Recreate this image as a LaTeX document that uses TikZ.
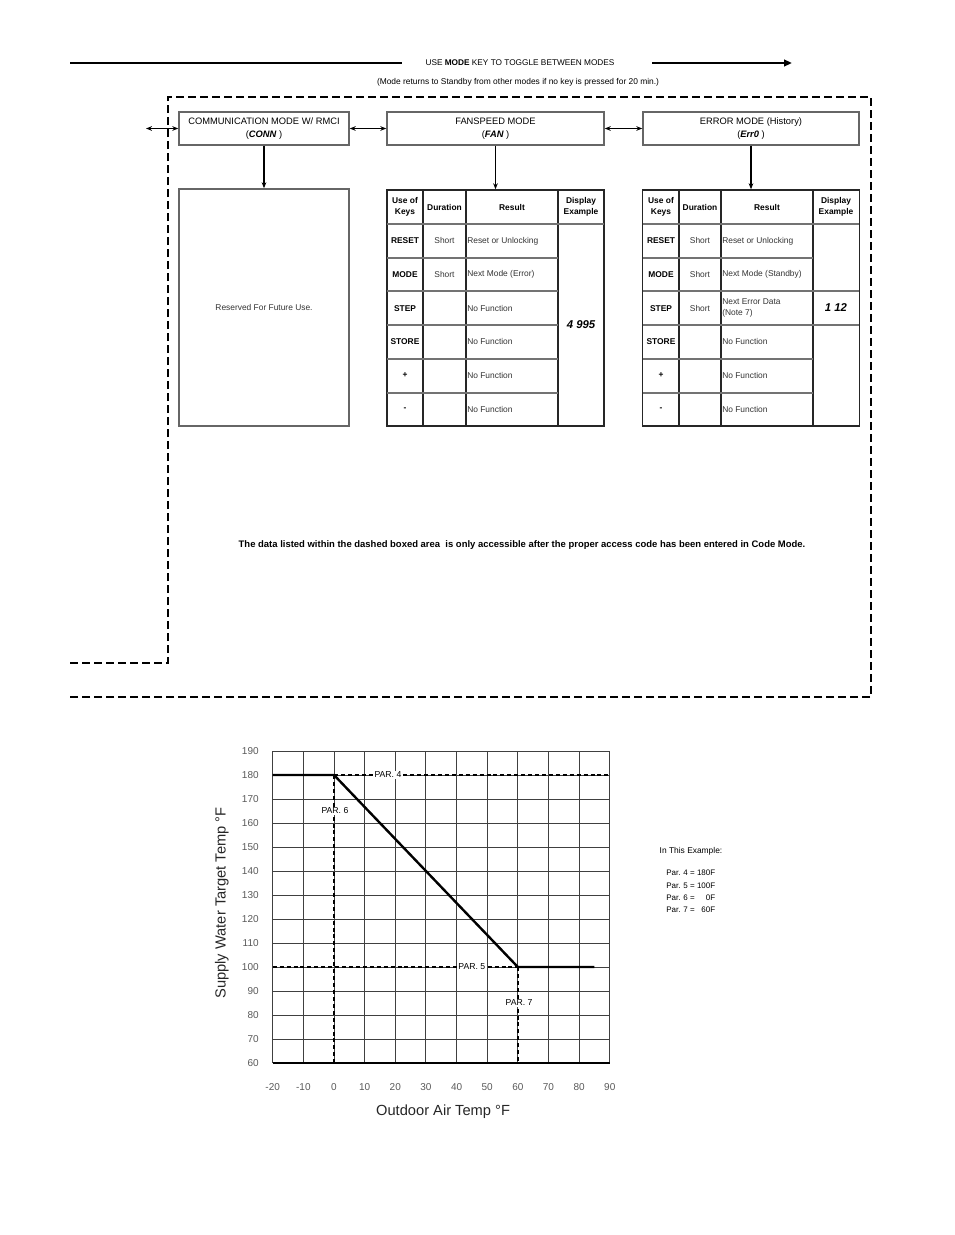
\documentclass[tikz,border=0pt]{standalone}
\usepackage{fontspec}
\setmainfont{Liberation Sans}
\usetikzlibrary{positioning,arrows.meta}

% seven segment look for the display texts
\newcommand{\segdig}[1]{{\bfseries\itshape #1}}

\tikzset{
  modebox/.style={draw=black!60, line width=1.1pt, minimum height=33*0.75pt, align=center,
    font=\fontsize{7}{10}\selectfont, inner sep=0pt},
  flow/.style={{Stealth[length=4.5pt,width=3.5pt]}-{Stealth[length=4.5pt,width=3.5pt]}, line width=1.1pt},
  flowdown/.style={-{Stealth[length=4.5pt,width=3.5pt]}, line width=1.1pt},
  tabframe/.style={draw=black!85, line width=1.1pt, minimum width=217*0.75pt,
    minimum height=236*0.75pt, inner sep=0pt},
  vline/.style={black!85, line width=1.1pt},
  hline/.style={black!55, line width=0.8pt},
  hdr/.style={font=\fontsize{6.3}{8.2}\selectfont\bfseries, align=center, inner sep=0pt},
  keylbl/.style={font=\fontsize{6.3}{8}\selectfont\bfseries, inner sep=0pt},
  cell/.style={font=\fontsize{6.3}{8}\selectfont, text=black!80, inner sep=0pt, align=left},
  digits/.style={font=\fontsize{8.5}{10}\selectfont, inner sep=0pt},
  dashbox/.style={line width=1.5pt, dash pattern=on 6pt off 3pt},
  gridln/.style={black!75, line width=0.75pt},
  parline/.style={line width=1pt, dash pattern=on 3pt off 2.2pt},
  parlbl/.style={font=\fontsize{6.5}{8}\selectfont, fill=white, inner sep=1pt},
  ticklbl/.style={font=\fontsize{7.5}{9}\selectfont, text=black!65, inner sep=0pt},
  axtitle/.style={font=\fontsize{11}{13}\selectfont, text=black!85},
}

\begin{document}
\begin{tikzpicture}[x=0.75pt, y=-0.75pt, >=Stealth]
  \useasboundingbox (0,0) rectangle (954,1235);

  % toggle line on top
  \coordinate (tgl1) at (70,63);
  \coordinate (tgl2) at (402,63);
  \coordinate (tgl3) at (652,63);
  \coordinate (tgl4) at (792,63);
  \node[font=\fontsize{6.2}{7}\selectfont] (toggle) at (520,63) {USE \textbf{MODE} KEY TO TOGGLE BETWEEN MODES};
  \node[font=\fontsize{6.3}{7}\selectfont] (stdby) at (518,82) {(Mode returns to Standby from other modes if no key is pressed for 20 min.)};
  \draw[line width=1.6pt] (tgl1) -- (tgl2);
  \draw[-{Triangle[length=6pt,width=5pt]}, line width=1.6pt] (tgl3) -- (tgl4);

  % dashed area
  \draw[dashbox] (70,663) -- (168,663) -- (168,97) -- (871,97) -- (871,697) -- (70,697);

  % mode boxes
  \node[modebox, minimum width=170*0.75pt] (conn) at (264,128.5) {COMMUNICATION MODE W/ RMCI\\(\segdig{CONN} )};
  \node[modebox, minimum width=217*0.75pt] (fan) at (495.5,128.5) {FANSPEED MODE\\(\segdig{FAN} )};
  \node[modebox, minimum width=216*0.75pt] (err) at (751,128.5) {ERROR MODE (History)\\(\segdig{Err0} )};
  \coordinate (prev) at (146,128.5);
  \draw[flow] (prev) -- (conn);
  \draw[flow] (conn) -- (fan);
  \draw[flow] (fan) -- (err);

  % reserved box
  \node[draw=black!60, line width=1.1pt, minimum width=170*0.75pt, minimum height=237*0.75pt,
    font=\fontsize{6.3}{8}\selectfont, text=black!80] (rsv) at (264,307.5) {Reserved For Future Use.};
  \draw[flowdown] (conn) -- (rsv);

  % fanspeed table
  \begin{scope}[shift={(387,190)}]
    \node[tabframe] (fantab) at (108.5,118) {};
    \foreach \cx in {36,79,171} \draw[vline] (\cx,0) -- (\cx,236);
    \draw[hline] (0,34) -- (217,34);
    \foreach \ry in {68,101,135,169,203} \draw[hline] (0,\ry) -- (171,\ry);
    \node[hdr] at (18,17) {Use of\\Keys};
    \node[hdr] at (57.5,17) {Duration};
    \node[hdr] at (125,17) {Result};
    \node[hdr] at (194,17) {Display\\Example};
    \foreach \k/\d/\r [count=\i, evaluate=\i as \ry using 34+(\i-0.5)*33.67] in
      {RESET/Short/Reset or Unlocking, MODE/Short/Next Mode (Error), STEP//No Function,
       STORE//No Function, +//No Function, -//No Function} {
      \node[keylbl] at (18,\ry) {\k};
      \node[cell] at (57.5,\ry) {\d};
      \node[cell, anchor=west] at (80,\ry) {\r};
    }
    \node[digits] at (194,135) {\segdig{4 995}};
  \end{scope}
  \draw[flowdown] (fan) -- (fantab);

  % error table
  \begin{scope}[shift={(643,190)}]
    \node[tabframe] (errtab) at (108,118) {};
    \foreach \cx in {36,78,170} \draw[vline] (\cx,0) -- (\cx,236);
    \foreach \ry in {34,101,135} \draw[hline] (0,\ry) -- (216,\ry);
    \foreach \ry in {68,169,203} \draw[hline] (0,\ry) -- (170,\ry);
    \node[hdr] at (18,17) {Use of\\Keys};
    \node[hdr] at (57,17) {Duration};
    \node[hdr] at (124,17) {Result};
    \node[hdr] at (193,17) {Display\\Example};
    \foreach \k/\d/\r [count=\i, evaluate=\i as \ry using 34+(\i-0.5)*33.67] in
      {RESET/Short/Reset or Unlocking, MODE/Short/Next Mode (Standby), STEP/Short/{Next Error Data\\(Note 7)},
       STORE//No Function, +//No Function, -//No Function} {
      \node[keylbl] at (18,\ry) {\k};
      \node[cell] at (57,\ry) {\d};
      \node[cell, anchor=west] at (79,\ry) {\r};
    }
    \node[digits] at (193,118) {\segdig{1 12}};
  \end{scope}
  \draw[flowdown] (err) -- (errtab);

  % access note
  \node[font=\fontsize{7.1}{9}\selectfont\bfseries] (note) at (522,545)
    {The data listed within the dashed boxed area\ \ is only accessible after the proper access code has been entered in Code Mode.};

  % reset curve chart
  \begin{scope}[shift={(334,1207)}, x=2.298pt, y=1.8pt]
    \foreach \t in {-20,-10,...,90} \draw[gridln] (\t,60) -- (\t,190);
    \foreach \v in {70,80,...,190} \draw[gridln] (-20,\v) -- (90,\v);
    \draw[line width=1.3pt] (-20,60) -- (90,60);
    \foreach \v in {60,70,...,190} \node[ticklbl, anchor=east] at (-24.5,\v) {\v};
    \foreach \t in {-20,-10} \node[ticklbl] at (\t,50) {-\the\numexpr-\t\relax};
    \foreach \t in {0,10,...,90} \node[ticklbl] at (\t,50) {\t};
    % parameter lines
    \draw[parline] (0,180) -- (90,180);
    \draw[parline] (0,180) -- (0,60);
    \draw[parline] (-20,100) -- (60,100);
    \draw[parline] (60,100) -- (60,60);
    \node[parlbl] (par4) at (17.6,180) {PAR. 4};
    \node[parlbl] (par6) at (0.3,165) {PAR. 6};
    \node[parlbl] (par5) at (45,100) {PAR. 5};
    \node[parlbl] (par7) at (60.4,85) {PAR. 7};
    % target curve
    \draw[line width=1.8pt] (-20,180) -- (0,180) -- (60,100) -- (85,100);
    \node[axtitle] (xlab) at (35.6,39.6) {Outdoor Air Temp °F};
    \node[axtitle, rotate=90] (ylab) at (-36.6,126.7) {Supply Water Target Temp °F};
  \end{scope}

  % example values
  \node[font=\fontsize{6.3}{8}\selectfont] (lgdtitle) at (691,851) {In This Example:};
  \node[font=\fontsize{6}{9.2}\selectfont, align=left, anchor=north west, inner sep=0pt] (lgd) at (666,870)
    {Par. 4 = 180F\\Par. 5 = 100F\\Par. 6 = \hphantom{18}0F\\Par. 7 = \hphantom{1}60F};
\end{tikzpicture}
\end{document}
